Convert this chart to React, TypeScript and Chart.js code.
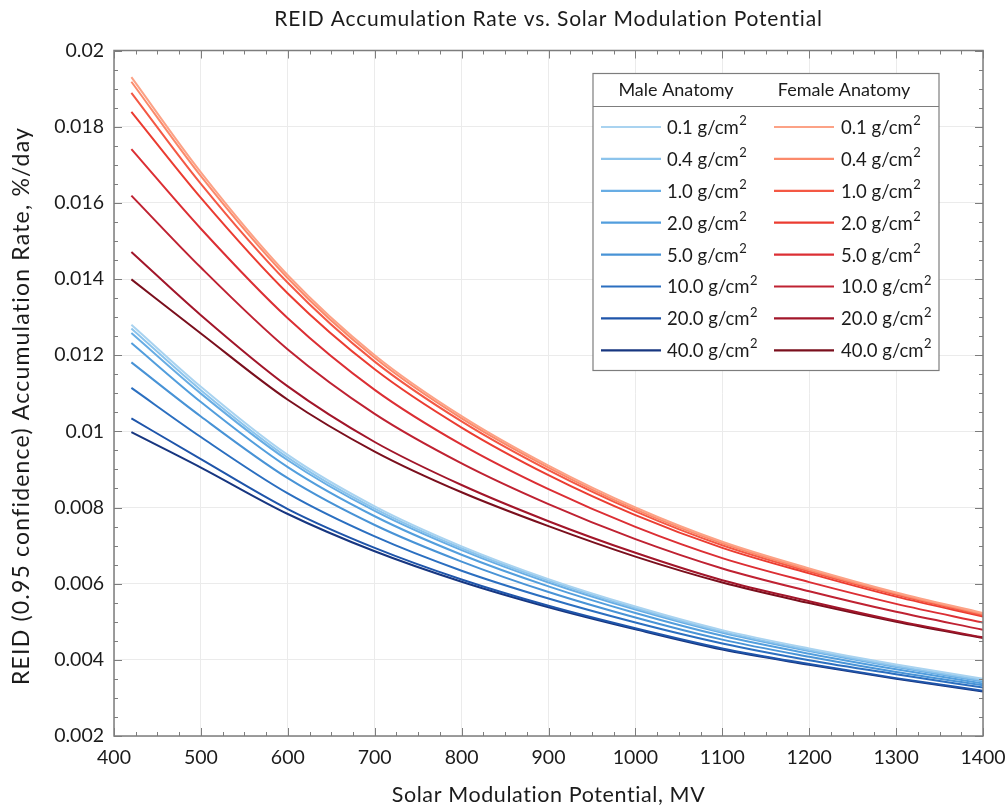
import React, { useEffect, useRef } from "react";
import { Chart, registerables } from "chart.js";

Chart.register(...registerables);

// ---------- data ----------
const xValues = [420, 500, 600, 700, 800, 900, 1000, 1100, 1200, 1300, 1400];
const shieldingLabels = ["0.1", "0.4", "1.0", "2.0", "5.0", "10.0", "20.0", "40.0"];

const male01 = [0.0128, 0.01117, 0.00938, 0.00803, 0.00698, 0.00612, 0.0054, 0.00478, 0.0043, 0.00388, 0.0035];
const male04 = [0.0127, 0.01108, 0.00931, 0.00797, 0.00693, 0.00608, 0.00536, 0.00474, 0.00426, 0.00384, 0.00347];
const male10 = [0.01258, 0.01099, 0.00924, 0.00791, 0.00688, 0.00603, 0.00532, 0.00471, 0.00423, 0.00381, 0.00343];
const male20 = [0.01232, 0.01077, 0.00906, 0.00777, 0.00676, 0.00593, 0.00523, 0.00463, 0.00416, 0.00375, 0.00338];
const male50 = [0.01181, 0.01039, 0.00877, 0.00754, 0.00658, 0.00578, 0.00511, 0.00453, 0.00408, 0.00368, 0.00333];
const male100 = [0.01114, 0.00985, 0.00837, 0.00724, 0.00634, 0.00561, 0.00498, 0.00443, 0.00399, 0.00362, 0.00327];
const male200 = [0.01034, 0.00927, 0.00796, 0.00694, 0.00611, 0.00542, 0.00483, 0.0043, 0.00389, 0.00352, 0.00319];
const male400 = [0.00998, 0.00905, 0.00783, 0.00685, 0.00605, 0.00538, 0.0048, 0.00427, 0.00387, 0.0035, 0.00317];

const female01 = [0.0193, 0.0168, 0.0141, 0.012, 0.0104, 0.0091, 0.008, 0.0071, 0.0064, 0.00577, 0.00523];
const female04 = [0.01918, 0.0167, 0.01402, 0.01193, 0.01034, 0.00905, 0.00795, 0.00706, 0.00636, 0.00574, 0.0052];
const female10 = [0.01889, 0.0165, 0.0139, 0.01183, 0.01026, 0.00898, 0.0079, 0.00701, 0.00632, 0.00571, 0.00517];
const female20 = [0.01839, 0.01613, 0.01362, 0.01163, 0.0101, 0.00885, 0.0078, 0.00694, 0.00627, 0.00566, 0.00514];
const female50 = [0.01741, 0.01532, 0.01297, 0.01109, 0.00965, 0.00848, 0.00749, 0.00667, 0.00604, 0.00547, 0.00498];
const female100 = [0.01619, 0.0143, 0.01215, 0.01046, 0.00916, 0.00809, 0.00717, 0.0064, 0.0058, 0.00526, 0.00479];
const female200 = [0.01471, 0.01305, 0.01118, 0.00972, 0.00859, 0.00764, 0.00681, 0.00609, 0.00554, 0.00503, 0.00459];
const female400 = [0.01399, 0.01257, 0.01083, 0.00947, 0.0084, 0.00751, 0.00671, 0.00603, 0.00549, 0.005, 0.00457];

const maleSeries = [male01, male04, male10, male20, male50, male100, male200, male400];
const femaleSeries = [female01, female04, female10, female20, female50, female100, female200, female400];

const maleColors = ["#a9d3f0", "#8cc4ec", "#68ade4", "#529edd", "#4893d6", "#2b6fc0", "#1f55aa", "#173680"];
const femaleColors = ["#fca286", "#fb8a6b", "#f45844", "#eb3c31", "#dc2f34", "#bf2232", "#a2162a", "#7a0f1d"];

const titleText = "REID Accumulation Rate vs. Solar Modulation Potential";
const xTitleText = "Solar Modulation Potential, MV";
const yTitleText = "REID (0.95 confidence) Accumulation Rate, %/day";
const legendHeaders = ["Male Anatomy", "Female Anatomy"];
const unitText = "g/cm";
const unitSup = "2";

const FONT = "Lato, 'Open Sans', sans-serif";
const TEXT = "#1b1b1b";

// ---------- plugins ----------
const framePlugin = {
  id: "frameTicks",
  afterDraw(chart: any) {
    const { ctx, chartArea: a, scales } = chart;
    const x = scales.x;
    const y = scales.y;
    ctx.save();
    ctx.strokeStyle = "#7d7d7d";
    ctx.lineWidth = 1;
    ctx.beginPath();
    for (let k = 16; k <= 56; k++) {
      const v = k * 25;
      const px = Math.round(x.getPixelForValue(v)) + 0.5;
      const len = k % 4 === 0 ? 8 : 4;
      ctx.moveTo(px, a.bottom);
      ctx.lineTo(px, a.bottom - len);
      ctx.moveTo(px, a.top);
      ctx.lineTo(px, a.top + len);
    }
    for (let k = 4; k <= 40; k++) {
      const v = k * 0.0005;
      const py = Math.round(y.getPixelForValue(v)) + 0.5;
      const len = k % 4 === 0 ? 8 : 4;
      ctx.moveTo(a.left, py);
      ctx.lineTo(a.left + len, py);
      ctx.moveTo(a.right, py);
      ctx.lineTo(a.right - len, py);
    }
    ctx.stroke();
    ctx.lineWidth = 1.5;
    ctx.strokeRect(a.left, a.top, a.right - a.left, a.bottom - a.top);
    ctx.restore();
  },
};

const textPlugin = {
  id: "titles",
  afterDraw(chart: any) {
    const { ctx, chartArea: a } = chart;
    ctx.save();
    ctx.fillStyle = TEXT;
    ctx.textAlign = "center";
    ctx.textBaseline = "middle";
    const cx = (a.left + a.right) / 2;
    ctx.font = `21px ${FONT}`;
    (ctx as any).letterSpacing = "0.8px";
    ctx.fillText(titleText, cx, 19);
    ctx.font = `21.5px ${FONT}`;
    (ctx as any).letterSpacing = "0.6px";
    ctx.fillText(xTitleText, cx, 795);
    ctx.translate(22, 406);
    ctx.rotate(-Math.PI / 2);
    ctx.font = `23px ${FONT}`;
    (ctx as any).letterSpacing = "1.2px";
    ctx.fillText(yTitleText, 0, 0);
    ctx.restore();
  },
};

const legendPlugin = {
  id: "tableLegend",
  afterDraw(chart: any) {
    const { ctx, chartArea: a } = chart;
    const left = a.right - 390;
    const top = a.top + 23;
    const w = 346;
    const h = 297;
    ctx.save();
    ctx.fillStyle = "#ffffff";
    ctx.fillRect(left, top, w, h);
    ctx.strokeStyle = "#7d7d7d";
    ctx.lineWidth = 1.2;
    ctx.strokeRect(left, top, w, h);
    ctx.beginPath();
    ctx.moveTo(left, top + 33);
    ctx.lineTo(left + w, top + 33);
    ctx.stroke();

    ctx.fillStyle = TEXT;
    ctx.textBaseline = "middle";
    ctx.textAlign = "center";
    ctx.font = `18px ${FONT}`;
    ctx.fillText(legendHeaders[0], left + 83, top + 17);
    ctx.fillText(legendHeaders[1], left + 251, top + 17);

    const groups = [
      { colors: maleColors, lineX: left + 8, textX: left + 74 },
      { colors: femaleColors, lineX: left + 181, textX: left + 248 },
    ];
    groups.forEach((g) => {
      shieldingLabels.forEach((lab, i) => {
        const ry = top + 53.5 + i * 31.9;
        ctx.strokeStyle = g.colors[i];
        ctx.lineWidth = 2.2;
        ctx.beginPath();
        ctx.moveTo(g.lineX, ry);
        ctx.lineTo(g.lineX + 60, ry);
        ctx.stroke();
        ctx.textAlign = "left";
        ctx.font = `18.5px ${FONT}`;
        const main = `${lab} ${unitText}`;
        ctx.fillText(main, g.textX, ry + 1);
        const mw = ctx.measureText(main).width;
        ctx.font = `13px ${FONT}`;
        ctx.fillText(unitSup, g.textX + mw + 0.5, ry - 6);
      });
    });
    ctx.restore();
  },
};

// ---------- component ----------
export default function App() {
  const canvasRef = useRef<HTMLCanvasElement | null>(null);

  useEffect(() => {
    document.body.style.margin = "0";
    const canvas = canvasRef.current;
    if (!canvas) return;

    const datasets: any[] = [];
    const build = (series: number[][], colors: string[], sex: string) =>
      series.forEach((vals, i) => {
        datasets.push({
          label: `${sex} ${shieldingLabels[i]} g/cm²`,
          data: xValues.map((x, j) => ({ x, y: vals[j] })),
          borderColor: colors[i],
          backgroundColor: colors[i],
          borderWidth: 2,
          pointRadius: 0,
          fill: false,
          cubicInterpolationMode: "monotone",
        });
      });
    build(maleSeries, maleColors, "Male");
    build(femaleSeries, femaleColors, "Female");

    const chart = new Chart(canvas, {
      type: "line",
      data: { datasets },
      plugins: [framePlugin, legendPlugin, textPlugin],
      options: {
        animation: false,
        responsive: false,
        maintainAspectRatio: false,
        layout: { padding: { top: 50.5, right: 22, left: 0, bottom: 0 } },
        plugins: {
          legend: { display: false },
          title: { display: false },
          tooltip: { enabled: false },
        },
        scales: {
          x: {
            type: "linear",
            min: 400,
            max: 1400,
            border: { display: false },
            grid: { color: "#ebebeb", lineWidth: 1, drawTicks: false },
            ticks: {
              stepSize: 100,
              padding: 10,
              color: TEXT,
              font: { family: FONT, size: 19.5 },
              maxRotation: 0,
              callback: (v: any) => String(v),
            },
            afterFit: (s: any) => {
              s.height = 72;
              s.paddingLeft = 0;
              s.paddingRight = 0;
            },
          },
          y: {
            type: "linear",
            min: 0.002,
            max: 0.02,
            border: { display: false },
            grid: { color: "#ebebeb", lineWidth: 1, drawTicks: false },
            ticks: {
              stepSize: 0.002,
              padding: 10,
              color: TEXT,
              font: { family: FONT, size: 19.5 },
              callback: (v: any) => String(Number(Number(v).toFixed(4))),
            },
            afterFit: (s: any) => {
              s.width = 114;
              s.paddingTop = 0;
              s.paddingBottom = 0;
            },
          },
        },
      },
    });
    return () => chart.destroy();
  }, []);

  return (
    <div style={{ width: 1005, height: 808 }}>
      <canvas ref={canvasRef} width={1005} height={808} style={{ display: "block" }} />
    </div>
  );
}
